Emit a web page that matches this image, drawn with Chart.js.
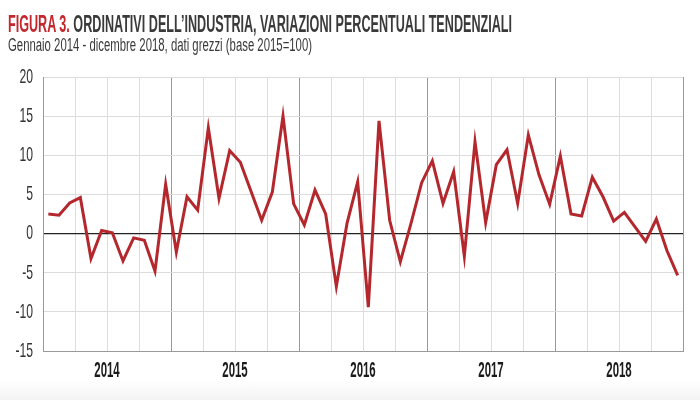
<!DOCTYPE html>
<html><head><meta charset="utf-8">
<script src="https://cdn.jsdelivr.net/npm/chart.js@4/dist/chart.umd.min.js"></script>
<style>
html,body{margin:0;padding:0;width:700px;height:400px;overflow:hidden;}
body{background:linear-gradient(to bottom,#fff 0px,#fff 380px,#f3f3f3 400px);}
#wrap{position:absolute;left:0;top:0;width:700px;height:400px;}
#title{position:absolute;left:8px;top:12px;font-family:"Liberation Sans",Arial,sans-serif;font-weight:bold;font-size:24px;line-height:1;color:#3a3a3a;white-space:nowrap;transform-origin:0 0;}
#title span{color:#c4262e;}
#sub{position:absolute;left:8px;top:36px;font-family:"Liberation Sans",Arial,sans-serif;font-size:18px;line-height:1;color:#3a3a3a;white-space:nowrap;transform-origin:0 0;}
canvas{position:absolute;left:0;top:0;}
</style></head>
<body>
<div id="wrap">
<canvas id="c" width="700" height="400"></canvas>
<div id="title"><span>FIGURA 3.</span> ORDINATIVI DELL’INDUSTRIA, VARIAZIONI PERCENTUALI TENDENZIALI</div>
<div id="sub">Gennaio 2014 - dicembre 2018, dati grezzi (base 2015=100)</div>
</div>
<script>
const years = ["2014","2015","2016","2017","2018"];
const yTicks = [-15,-10,-5,0,5,10,15,20];
const values2014 = [2.5, 2.35, 3.9, 4.6, -3.2, 0.4, 0.1, -3.5, -0.55, -0.85, -4.8, 6.3];
const values2015 = [-2.35, 4.7, 3.0, 13.5, 4.5, 10.6, 9.1, 5.4, 1.7, 5.3, 15.0, 3.8];
const values2016 = [1.1, 5.55, 2.5, -6.75, 1.3, 6.6, -9.4, 14.4, 1.7, -3.6, 1.3, 6.5];
const values2017 = [9.3, 3.85, 7.9, -2.9, 11.75, 1.4, 8.8, 10.7, 3.85, 12.6, 7.5, 3.75];
const values2018 = [9.9, 2.5, 2.25, 7.2, 4.7, 1.6, 2.7, 0.85, -1.0, 1.85, -2.2, -5.35];

const series = [].concat(values2014, values2015, values2016, values2017, values2018);
const points = series.map((v, i) => ({x: i + 0.5, y: v}));

// condense title text horizontally to the reference widths
function fit(id, w){const el=document.getElementById(id);const r=el.getBoundingClientRect().width;el.style.transform='scaleX('+(w/r)+')';}
fit('title',504); fit('sub',304);

const FONT = '"Liberation Sans",Arial,sans-serif';

// draw tick labels horizontally condensed (the reference uses a very narrow face)
const narrowLabels = {
  id: 'narrowLabels',
  beforeDraw(chart) {
    const factors = { x: 0.52, y: 0.58 };
    Object.keys(factors).forEach(id => {
      const scale = chart.scales[id];
      if (!scale || scale._narrowed) return;
      const sx = factors[id];
      const orig = scale.drawLabels.bind(scale);
      scale.drawLabels = function(area) {
        const ctx = this.ctx;
        const f = CanvasRenderingContext2D.prototype.fillText;
        ctx.fillText = function(t, x, y) {
          ctx.save(); ctx.translate(x, y); ctx.scale(sx, 1); f.call(ctx, t, 0, 0); ctx.restore();
        };
        try { orig(area); } finally { delete ctx.fillText; }
      };
      scale._narrowed = true;
    });
  }
};

new Chart(document.getElementById('c'), {
  type: 'line',
  data: { datasets: [{
    data: points,
    borderColor: '#b3272d',
    borderWidth: 3,
    pointRadius: 0,
    tension: 0,
    fill: false
  }]},
  plugins: [narrowLabels],
  options: {
    responsive: false,
    animation: false,
    plugins: { legend: {display:false}, tooltip:{enabled:false} },
    layout: { padding: { top: 77, right: 17, left: 0, bottom: 0 } },
    scales: {
      x: {
        type: 'linear', min: 0, max: 60,
        afterBuildTicks: (s) => { const t=[]; for(let v=0; v<=60; v+=3) t.push({value:v}); s.ticks = t; },
        afterFit: (s) => { s.height = 49; },
        ticks: {
          autoSkip: false, maxRotation: 0, padding: 7,
          font: { family: FONT, size: 22, weight: 'bold' }, color: '#1a1a1a',
          callback: (v) => (v % 12 === 6) ? years[(v - 6) / 12] : ''
        },
        grid: {
          drawTicks: false,
          color: (ctx) => (ctx.tick && ctx.tick.value % 12 === 0) ? '#9a9a9a' : '#dcdcdc',
          lineWidth: 1
        },
        border: { display: true, color: '#9a9a9a' }
      },
      y: {
        min: -15, max: 20,
        afterBuildTicks: (s) => { s.ticks = yTicks.map(v => ({value: v})); },
        afterFit: (s) => { s.width = 43; },
        ticks: { padding: 10, font: { family: FONT, size: 21 }, color: '#333' },
        grid: {
          drawTicks: false,
          color: (ctx) => (ctx.tick && ctx.tick.value === 0) ? '#222' : '#dcdcdc',
          lineWidth: (ctx) => (ctx.tick && ctx.tick.value === 0) ? 1.3 : 1
        },
        border: { display: true, color: '#9a9a9a' }
      }
    }
  }
});
</script>
</body></html>
